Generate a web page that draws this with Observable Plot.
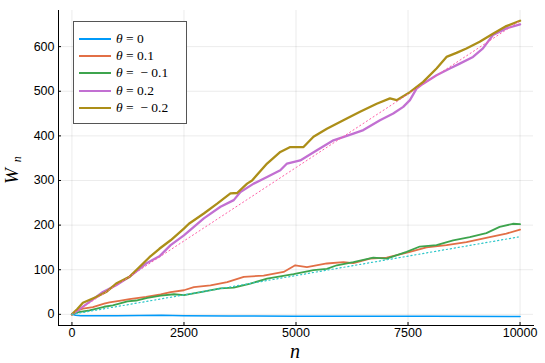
<!DOCTYPE html>
<html><head><meta charset="utf-8">
<script src="https://cdn.jsdelivr.net/npm/d3@7"></script>
<script src="https://cdn.jsdelivr.net/npm/@observablehq/plot@0.6"></script>
<style>
body{margin:0;background:#fff;}
#wrap{position:relative;width:545px;height:363px;overflow:hidden;}
#legend{position:absolute;left:73px;top:21px;width:112px;height:101px;border:1px solid #555;background:#fff;box-sizing:content-box;}
.row{position:absolute;left:5px;height:17px;display:flex;align-items:center;font-family:"Liberation Serif",serif;font-size:13.5px;color:#000;white-space:pre;}
.sw{width:32px;height:2px;margin-right:5px;}
.math i{font-style:italic;}
#ylab{position:absolute;left:2px;top:184px;transform-origin:0 0;transform:rotate(-90deg);font-family:"Liberation Serif",serif;font-style:italic;font-size:19px;line-height:1;white-space:nowrap;}
#ylab sub{font-size:12px;margin-left:6px;vertical-align:-3px;}
#xlab{position:absolute;left:290px;top:345px;font-family:"Liberation Serif",serif;font-style:italic;font-size:20px;line-height:12px;height:12px;}
</style></head><body><div id="wrap"></div><script>
const names = ["θ = 0", "θ = 0.1", "θ =  − 0.1", "θ = 0.2", "θ =  − 0.2"];
const colors = ["#009af9", "#e26f46", "#3da44d", "#c270d2", "#ac8e18"];
const xTicks = [0, 2500, 5000, 7500, 10000];
const yTicks = [0, 100, 200, 300, 400, 500, 600];

const n0 = [0, 80, 200, 500, 1000, 2000, 2500, 3500, 5000, 6500, 8000, 10000];
const w0 = [0, -2, -3, -3, -3, -2, -3, -3.5, -4, -4, -4.5, -5];

const n1 = [0, 100, 245, 467, 719, 838, 1090, 1283, 1654, 1980, 2202, 2498, 2721, 3092, 3464, 3834, 4278, 4723, 4983, 5244, 5689, 6058, 6281, 6652, 7023, 7542, 7913, 8358, 8803, 9321, 9693, 10000];
const w1 = [0, 8, 13, 16, 24, 27, 31, 34, 39, 45, 50, 54, 61, 65, 72, 84, 87, 95, 110, 106, 114, 117, 115, 125, 127, 140, 150, 155, 162, 173, 181, 190];

const n2 = [0, 150, 393, 719, 912, 1239, 1432, 1684, 1980, 2276, 2498, 2870, 3315, 3611, 3982, 4354, 4946, 5390, 5689, 5911, 6281, 6725, 7023, 7468, 7764, 8136, 8506, 8877, 9248, 9544, 9840, 10000];
const w2 = [0, 5, 9, 17, 20, 29, 31, 37, 42, 45, 43, 50, 58, 60, 69, 80, 90, 99, 102, 110, 117, 127, 125, 140, 152, 155, 166, 173, 182, 196, 203, 202];

const n3 = [0, 133, 393, 690, 986, 1283, 1654, 1951, 2202, 2498, 2721, 2943, 3315, 3611, 3760, 4056, 4354, 4650, 4799, 5095, 5466, 5836, 6281, 6503, 6874, 7170, 7393, 7542, 7690, 7838, 8136, 8432, 8654, 8950, 9172, 9395, 9693, 10000];
const w3 = [0, 9, 28, 50, 65, 84, 114, 130, 155, 177, 196, 215, 241, 256, 274, 293, 308, 323, 338, 345, 368, 390, 405, 413, 435, 450, 465, 480, 506, 517, 536, 551, 562, 577, 596, 626, 641, 650];

const n4 = [0, 120, 245, 541, 763, 986, 1283, 1506, 1729, 1951, 2202, 2498, 2610, 2943, 3241, 3537, 3686, 3909, 4020, 4354, 4650, 4872, 5168, 5390, 5689, 6133, 6429, 6801, 7097, 7246, 7542, 7838, 8136, 8358, 8581, 8803, 9099, 9395, 9693, 10000];
const w4 = [0, 12, 26, 39, 50, 69, 84, 106, 128, 147, 166, 192, 203, 226, 248, 271, 272, 293, 300, 338, 364, 375, 375, 398, 416, 439, 454, 472, 484, 480, 498, 521, 551, 577, 586, 596, 611, 629, 646, 658];

const nTheory = [0, 10000];
const wTheoryHigh = [0, 658];
const wTheoryLow = [0, 174];

const series = [[n0, w0], [n1, w1], [n2, w2], [n3, w3], [n4, w4]].map(([ns, ws], i) =>
  ns.map((n, j) => ({n, w: ws[j], s: i})));
const widths = [1.5, 1.8, 1.8, 2.3, 2.3];
const thHigh = nTheory.map((n, j) => ({n, w: wTheoryHigh[j]}));
const thLow = nTheory.map((n, j) => ({n, w: wTheoryLow[j]}));

const plot = Plot.plot({
  width: 545, height: 363,
  marginLeft: 58, marginRight: 12, marginTop: 10, marginBottom: 38,
  style: {fontFamily: "'Liberation Sans', sans-serif", fontSize: "12.5px", color: "#000", background: "#fff"},
  x: {domain: [-300, 10300]},
  y: {domain: [-25, 681]},
  marks: [
    Plot.gridX(xTicks, {stroke: "#000", strokeOpacity: 0.1, strokeWidth: 0.8}),
    Plot.gridY(yTicks, {stroke: "#000", strokeOpacity: 0.1, strokeWidth: 0.8}),
    ...series.map((d, i) => Plot.line(d, {x: "n", y: "w", stroke: colors[i], strokeWidth: widths[i]})),
    Plot.line(thHigh, {x: "n", y: "w", stroke: "#ff5fa8", strokeWidth: 1, strokeDasharray: "1.2,2.8"}),
    Plot.line(thLow, {x: "n", y: "w", stroke: "#2ec7c9", strokeWidth: 1.2, strokeDasharray: "1.2,2.8"}),
    Plot.axisX(xTicks, {tickSize: -3, tickPadding: 6, label: null, tickFormat: d => String(d)}),
    Plot.axisY(yTicks, {tickSize: -3, tickPadding: 7, label: null, tickFormat: d => String(d)}),
    Plot.frame({anchor: "left", stroke: "#000", strokeWidth: 1}),
    Plot.frame({anchor: "bottom", stroke: "#000", strokeWidth: 1})
  ]
});
const wrap = document.getElementById("wrap");
wrap.appendChild(plot);

const leg = document.createElement("div");
leg.id = "legend";
names.forEach((nm, i) => {
  const r = document.createElement("div");
  r.className = "row";
  r.style.top = (8 + i * 17.4) + "px";
  const sw = document.createElement("div");
  sw.className = "sw";
  sw.style.background = colors[i];
  r.appendChild(sw);
  const t = document.createElement("span");
  t.className = "math";
  const parts = nm.split("θ");
  t.innerHTML = "<i>θ</i>" + parts[1];
  r.appendChild(t);
  leg.appendChild(r);
});
wrap.appendChild(leg);

const yl = document.createElement("div");
yl.id = "ylab";
yl.innerHTML = "W<sub>n</sub>";
wrap.appendChild(yl);

const xl = document.createElement("div");
xl.id = "xlab";
xl.textContent = "n";
wrap.appendChild(xl);
</script></body></html>
